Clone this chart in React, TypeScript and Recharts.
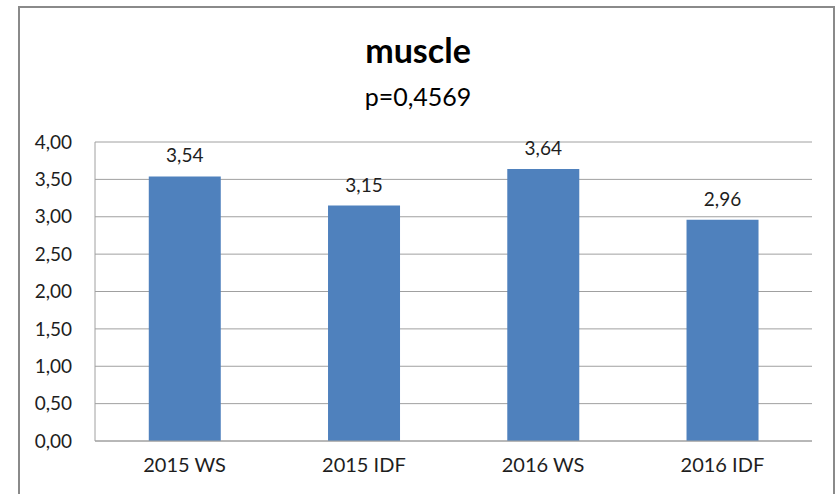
import React from 'react';
import { BarChart, Bar, XAxis, YAxis, CartesianGrid, LabelList } from 'recharts';

const categories = ['2015 WS', '2015 IDF', '2016 WS', '2016 IDF'];
const values = [3.54, 3.15, 3.64, 2.96];
const yTicks = [0, 0.5, 1, 1.5, 2, 2.5, 3, 3.5, 4];
const title = 'muscle';
const subtitle = 'p=0,4569';

const data = categories.map((c, i) => ({ name: c, value: values[i] }));
const fmt = (v: number) => v.toFixed(2).replace('.', ',');
const FONT = 'Lato, "Open Sans", sans-serif';
const TEXT = '#1e1e1e';

export default function App() {
  return (
    <div style={{ position: 'absolute', left: 0, top: 0, width: 836, height: 494, overflow: 'hidden', background: '#fff', fontFamily: FONT }}>
      <div style={{ position: 'absolute', left: 18, top: 6, width: 813, height: 520, border: '2px solid #8a8a8a' }} />
      <div style={{ position: 'absolute', left: 0, width: 836, top: 30, textAlign: 'center', fontSize: 34, fontWeight: 700, color: '#000', lineHeight: '40px' }}>{title}</div>
      <div style={{ position: 'absolute', left: 0, width: 836, top: 80, textAlign: 'center', fontSize: 25, color: '#000', lineHeight: '32px' }}>{subtitle}</div>
      <div style={{ position: 'absolute', left: 0, top: 0 }}>
        <BarChart width={836} height={494} data={data} margin={{ top: 142, right: 24, bottom: 0, left: 0 }} barCategoryGap="30%">
          <CartesianGrid vertical={false} stroke="#a0a0a0" strokeWidth={1} />
          <XAxis dataKey="name" height={53} axisLine={{ stroke: '#a0a0a0' }} tickLine={false} tickSize={0} tickMargin={17}
            tick={{ fontSize: 20, fill: TEXT, fontFamily: FONT }} />
          <YAxis domain={[0, 4]} ticks={yTicks} width={95} axisLine={{ stroke: '#a0a0a0' }} tickLine={false} tickSize={0} tickMargin={23}
            tickFormatter={fmt} tick={{ fontSize: 19, fill: TEXT, fontFamily: FONT }} interval={0} />
          <Bar dataKey="value" fill="#4F81BD" isAnimationActive={false}>
            <LabelList dataKey="value" position="top" offset={14} formatter={(v: any) => fmt(Number(v))}
              style={{ fontSize: 19, fill: TEXT, fontFamily: FONT }} />
          </Bar>
        </BarChart>
      </div>
    </div>
  );
}
